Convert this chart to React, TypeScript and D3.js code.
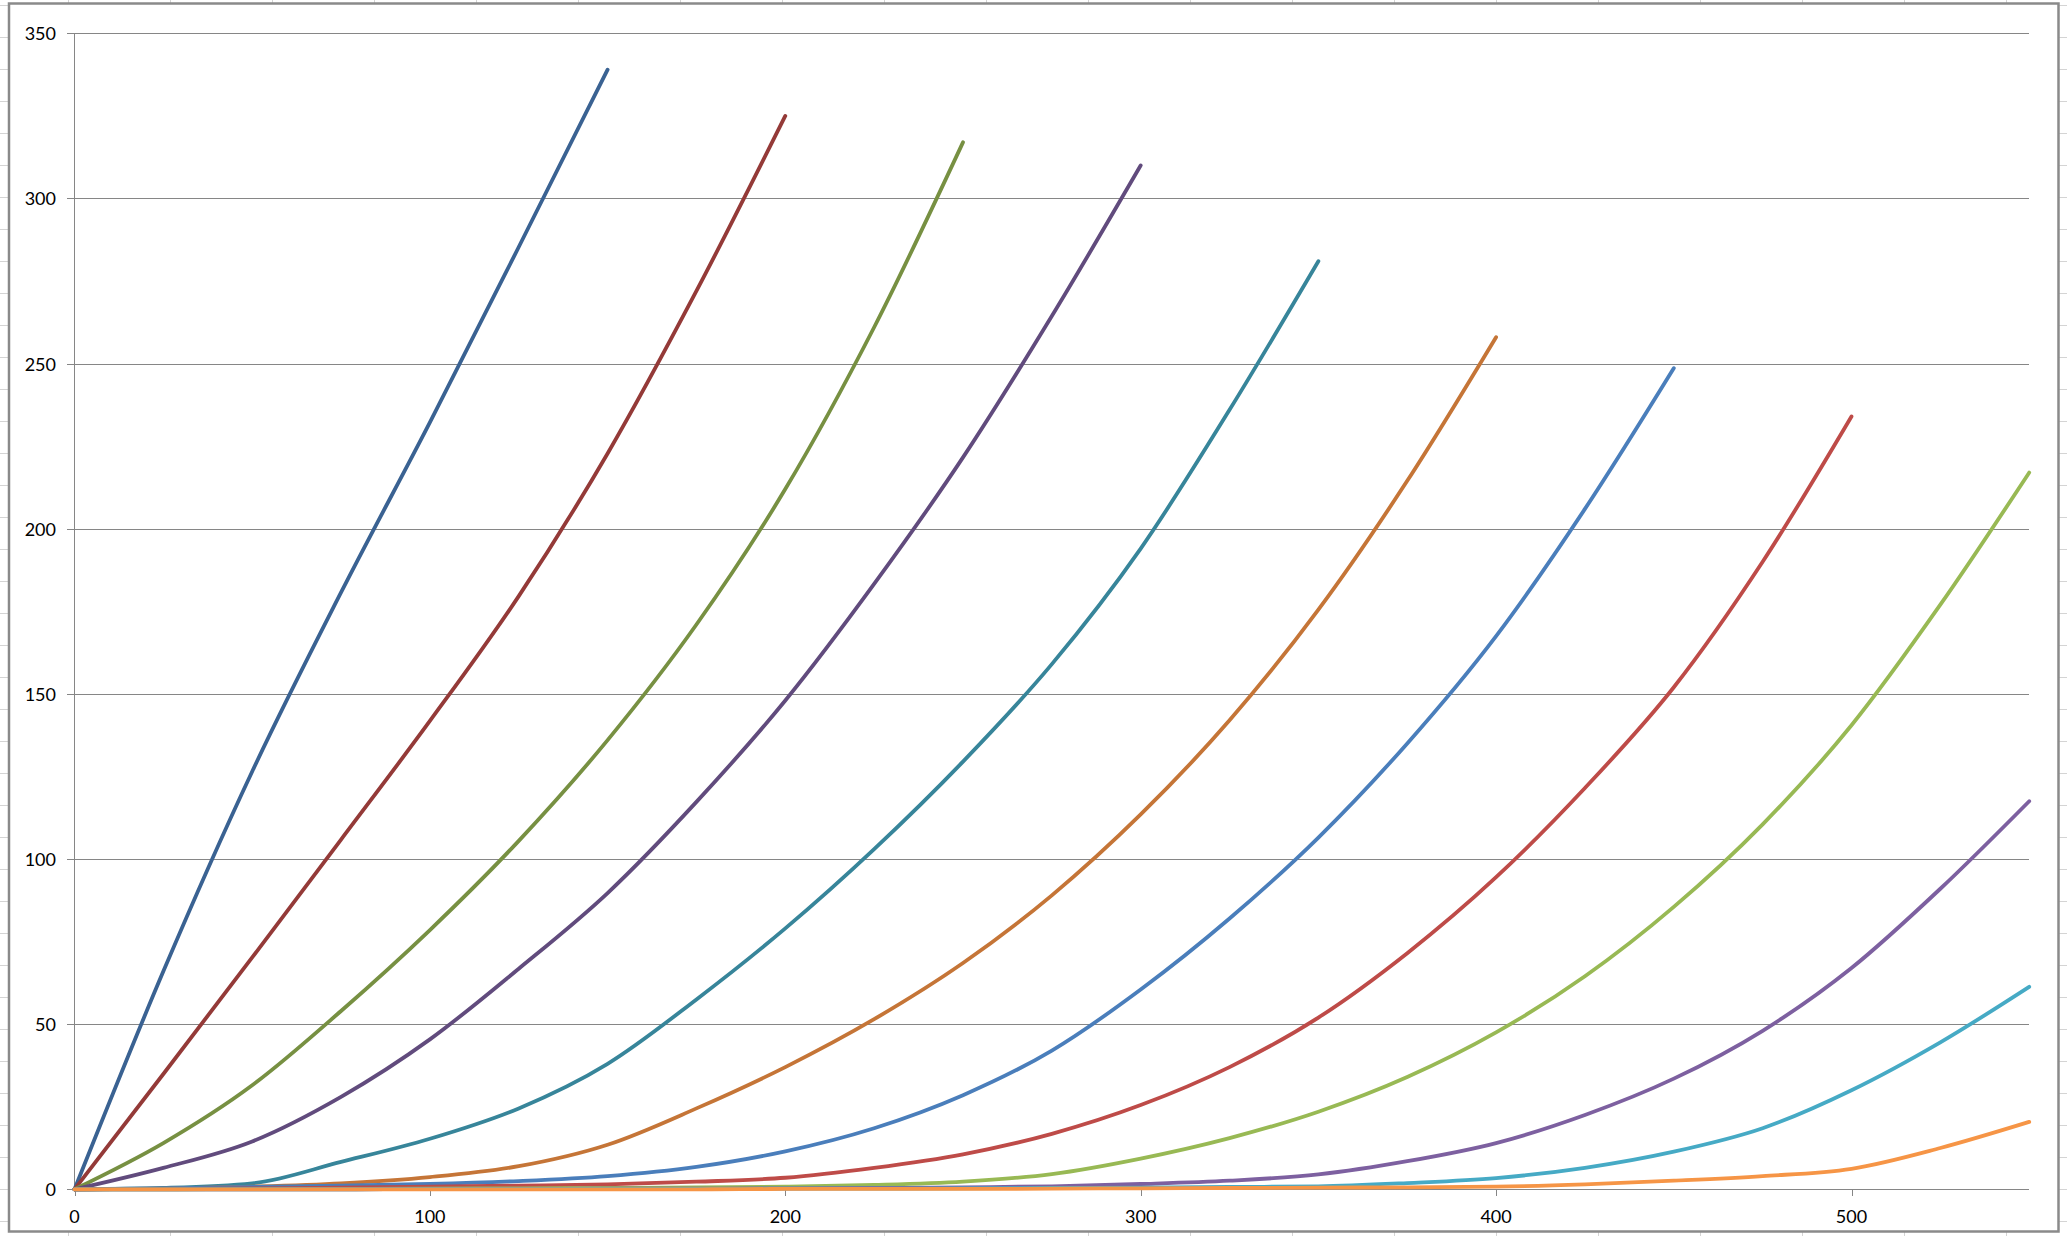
import React from "react";
import * as d3 from "d3";

const W = 2067;
const H = 1236;

const xStep = 25;
const yTicks = [0, 50, 100, 150, 200, 250, 300, 350];
const xTicks = [0, 100, 200, 300, 400, 500];

const s1 = [0, 66, 126.5, 180.7, 232.2, 285.3, 339];
const s2 = [0, 34.9, 70.2, 105.9, 141.8, 179.6, 222.8, 272, 325];
const s3 = [0, 14, 31.5, 54, 78.5, 105.5, 136, 171, 212, 261, 317];
const s4 = [0, 6.5, 14.5, 28, 45.4, 66.8, 89.7, 117.3, 148, 183.3, 221.6, 264.4, 310];
const s5 = [0, 0.4, 1.8, 8.3, 15.3, 24.5, 38, 57.5, 79, 103, 129.5, 159, 194, 236, 281];
const s6 = [0, 0.2, 0.8, 1.8, 3.7, 7.0, 13.5, 24.5, 37, 51.5, 68.5, 89, 113.5, 142, 175.5, 214.5, 258];
const s7 = [0, 0.3, 0.7, 1.1, 1.6, 2.5, 4, 6.8, 11.5, 18.5, 28.5, 42, 60.5, 82, 106.5, 135, 167.5, 206, 248.6];
const s8 = [0, 0.1, 0.3, 0.5, 0.8, 1.1, 1.5, 2.3, 3.5, 6.5, 10.6, 16.8, 25.5, 37, 52, 71.5, 94.5, 121.5, 152, 190, 234];
const s9 = [0, 0, 0.1, 0.1, 0.2, 0.3, 0.4, 0.6, 0.8, 1.3, 2.3, 4.6, 9.3, 15.5, 23.5, 34, 47.5, 64.5, 85.5, 110.5, 140.5, 177, 217];
const s10 = [0, 0, 0, 0, 0.1, 0.1, 0.2, 0.2, 0.3, 0.4, 0.6, 0.9, 1.6, 2.6, 4.5, 8.5, 14, 22.5, 33.5, 48, 67, 91, 117.5];
const s11 = [0, 0, 0, 0, 0.1, 0.1, 0.1, 0.1, 0.2, 0.2, 0.3, 0.4, 0.5, 0.7, 0.9, 1.9, 3.4, 6.5, 11.4, 18.5, 30, 44.5, 61.3];
const s12 = [0, 0, 0, 0, 0, 0, 0, 0, 0.1, 0.1, 0.1, 0.2, 0.3, 0.4, 0.5, 0.6, 0.8, 1.5, 2.6, 4, 6.2, 12.5, 20.4];

const seriesValues = [s1, s2, s3, s4, s5, s6, s7, s8, s9, s10, s11, s12];
const seriesColors = [
  "#3a6292", "#943a38", "#779042", "#614b7d", "#37859a", "#c57537",
  "#4a7ebb", "#be4b48", "#98b954", "#7d60a0", "#46aac5", "#f69546",
];

export default function App() {
  const x = d3.scaleLinear().domain([0, 550]).range([74.5, 2029.2]);
  const y = d3.scaleLinear().domain([0, 350]).range([1189.3, 33.3]);
  const line = d3
    .line<[number, number]>()
    .x((d) => x(d[0]))
    .y((d) => y(d[1]))
    .curve(d3.curveMonotoneX);

  const rows = d3.range(5.5, H, 32);
  const cols = d3.range(68.5, W, 102);
  const font = "Lato, 'Open Sans', sans-serif";

  return (
    <svg
      width={W}
      height={H}
      style={{ position: "absolute", left: 0, top: 0, background: "#fff" }}
    >
      <g stroke="#d4d4d4" strokeWidth={1} shapeRendering="crispEdges">
        {rows.map((r) => (
          <line key={"r" + r} x1={0} x2={W} y1={r} y2={r} />
        ))}
        {cols.map((c) => (
          <line key={"c" + c} x1={c} x2={c} y1={0} y2={H} />
        ))}
      </g>
      <rect x={9} y={3.5} width={2049.5} height={1228} fill="#fff" stroke="#8a8a8a" strokeWidth={2.5} />

      <g stroke="#868686" strokeWidth={1} shapeRendering="crispEdges">
        {yTicks.map((t) => (
          <line key={"g" + t} x1={67} x2={x(550)} y1={Math.round(y(t)) + 0.5} y2={Math.round(y(t)) + 0.5} />
        ))}
        <line x1={74.5} x2={74.5} y1={y(350)} y2={y(0)} />
        {xTicks.map((t) => (
          <line key={"xt" + t} x1={Math.round(x(t)) + 0.5} x2={Math.round(x(t)) + 0.5} y1={y(0)} y2={y(0) + 7} />
        ))}
      </g>

      <g fontFamily={font} fontSize={18} fill="#000">
        {yTicks.map((t) => (
          <text key={"yl" + t} x={56} y={y(t)} textAnchor="end" dominantBaseline="central">
            {t}
          </text>
        ))}
        {xTicks.map((t) => (
          <text key={"xl" + t} x={x(t)} y={1223} textAnchor="middle">
            {t}
          </text>
        ))}
      </g>

      <g fill="none" strokeWidth={3.8} strokeLinecap="round" strokeLinejoin="round">
        {seriesValues.map((vals, i) => {
          const pts: [number, number][] = vals.map((v, j) => [j * xStep, v]);
          return <path key={"s" + i} d={line(pts) || ""} stroke={seriesColors[i]} />;
        })}
      </g>
    </svg>
  );
}
